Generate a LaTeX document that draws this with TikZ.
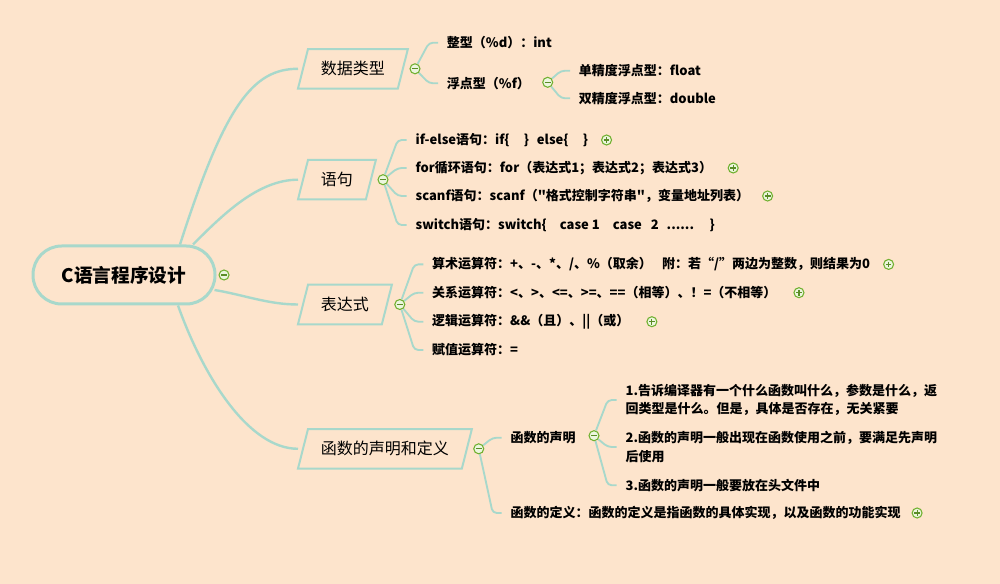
\documentclass[tikz,border=0pt]{standalone}
\usepackage{fontspec}
\setmainfont{Noto Sans CJK SC}[Ligatures=TeXOff]
\usetikzlibrary{calc,positioning}
\pgfdeclarelayer{background}
\pgfsetlayers{background,main}
\definecolor{paper}{RGB}{253,228,204}
\definecolor{branch}{RGB}{168,216,203}
\definecolor{foldgreen}{RGB}{112,176,48}
\definecolor{foldfill}{RGB}{236,246,222}
\tikzstyle{root}=[draw=branch,line width=2.25pt,fill=paper,rounded corners=21.5pt,minimum width=136.5pt,minimum height=43.5pt,font=\fontsize{14}{16}\selectfont\bfseries]
\tikzstyle{topic}=[anchor=west,minimum height=29.25pt,inner xsep=17pt,font=\fontsize{12}{14}\selectfont]
\tikzstyle{topic edge}=[draw=branch,line width=1.5pt]
\tikzstyle{leaf}=[anchor=west,align=left,inner xsep=6.5pt,inner ysep=1pt,font=\fontsize{9.75}{14}\selectfont\bfseries]
\tikzstyle{edge}=[draw=branch,line width=1.8pt]
\tikzstyle{sub edge}=[draw=branch,line width=1.4pt,rounded corners=3pt]
\tikzstyle{fold}=[circle,draw=foldgreen,fill=foldfill,line width=0.8pt,minimum size=7.5pt,inner sep=0pt,
  path picture={\draw[foldgreen!80!black,line width=0.9pt] ([xshift=1.6pt]path picture bounding box.west) -- ([xshift=-1.6pt]path picture bounding box.east);}]
\tikzstyle{more}=[circle,draw=foldgreen,fill=foldfill,line width=0.8pt,minimum size=7.5pt,inner sep=0pt,
  path picture={\draw[foldgreen!80!black,line width=0.9pt] ([xshift=1.6pt]path picture bounding box.west) -- ([xshift=-1.6pt]path picture bounding box.east)
    ([yshift=-1.6pt]path picture bounding box.north) -- ([yshift=1.6pt]path picture bounding box.south);}]

\begin{document}
\begin{tikzpicture}[x=0.75pt,y=-0.75pt]
\useasboundingbox (0,0) rectangle (1000,584);

% central topic and the four main topics
\node[root] (root) at (124,275) {C语言程序设计};
\foreach \pos/\name/\lbl in {{(298,68.8)/dt/数据类型}, {(298,179.7)/st/语句}, {(298,304.5)/ex/表达式}, {(298,448.8)/fn/函数的声明和定义}}
  \node[topic] (\name) at \pos {\lbl};
\foreach \name in {dt,st,ex,fn}
  \draw[topic edge] ($(\name.north west)+(10,0)$) -- (\name.north east) -- ($(\name.south east)+(-10,0)$) -- (\name.south west) -- cycle;

% fold buttons
\node[fold, right=1.5pt of root] (rootf) {};
\node[fold, right=1.2pt of dt] (dtf) {};
\node[fold, right=1.2pt of st] (stf) {};
\node[fold, right=1.8pt of ex] (exf) {};
\node[fold, right=1pt of fn] (fnf) {};
\node[fold] (fpf) at (547.7,82.3) {};
\node[fold] (declf) at (594,435.7) {};

% subtopics
\node[leaf] (int) at (438,42.7) {整型（\%d）：int};
\node[leaf] (fp) at (438,83.3) {浮点型（\%f）};
\node[leaf] (sgl) at (570,70.7) {单精度浮点型：float};
\node[leaf] (dbl) at (570,98.3) {双精度浮点型：double};

\node[leaf] (ifelse) at (406.7,140) {if-else语句：if\{\hspace{1.1em}\}\hspace{0.6em}else\{\hspace{1.1em}\}};
\node[leaf] (forloop) at (406.7,168) {for循环语句：for（表达式1；表达式2；表达式3）};
\node[leaf] (scanf) at (406.7,196) {scanf语句：scanf（"格式控制字符串"，变量地址列表）};
\node[leaf] (switch) at (406.7,225) {switch语句：switch\{\hspace{1em}case 1\hspace{1em}case\hspace{0.7em}2\hspace{0.6em}......\hspace{1.2em}\}};

\node[leaf] (arith) at (423.3,264.4) {算术运算符：+、-、*、/、\%（取余）\hspace{0.8em}附：若“/”两边为整数，则结果为0};
\node[leaf] (rel) at (423.3,292.7) {关系运算符：<、>、<=、>=、==（相等）、！=（不相等）};
\node[leaf] (logic) at (423.3,321.7) {逻辑运算符：\&\&（且）、||（或）};
\node[leaf] (assign) at (423.3,350) {赋值运算符：=};

\node[leaf] (decl) at (501.7,437.7) {函数的声明};
\node[leaf] (d1) at (616.7,400) {1.告诉编译器有一个什么函数叫什么，参数是什么，返\\回类型是什么。但是，具体是否存在，无关紧要};
\node[leaf] (d2) at (616.7,447) {2.函数的声明一般出现在函数使用之前，要满足先声明\\后使用};
\node[leaf] (d3) at (616.7,485.3) {3.函数的声明一般要放在头文件中};
\node[leaf] (def) at (501.7,513) {函数的定义：函数的定义是指函数的具体实现，以及函数的功能实现};

% collapsed branches
\foreach \name/\gap in {ifelse/3pt, forloop/5pt, scanf/3pt, arith/3pt, rel/6pt, logic/6pt, def/1.5pt}
  \node[more, right=\gap of \name] (\name-m) {};

\begin{pgfonlayer}{background}
  \fill[paper] (0,0) rectangle (1000,584);
  % main branches
  \path[edge] ($(root.north)+(56,0)$) .. controls +(45,-140) and +(-45,0) .. (dt.west);
  \path[edge] ($(root.north)+(69,0)$) .. controls +(30,-30) and +(-40,0) .. (st.west);
  \path[edge] ($(root.east)+(-2,15)$) .. controls +(30,5) and +(-30,0) .. (ex.west);
  \path[edge] ($(root.south)+(54,0)$) .. controls +(25,70) and +(-50,0) .. (fn.west);
  % sub branches
  \foreach \source/\dest in {dtf/int, dtf/fp, fpf/sgl, fpf/dbl, stf/ifelse, stf/forloop, stf/scanf, stf/switch,
      exf/arith, exf/rel, exf/logic, exf/assign, fnf/decl, fnf/def, declf/d1, declf/d2, declf/d3}
    \path[sub edge] (\source) -- ($(\dest.west)+(-9,0)$) -- (\dest.west);
\end{pgfonlayer}
\end{tikzpicture}
\end{document}
